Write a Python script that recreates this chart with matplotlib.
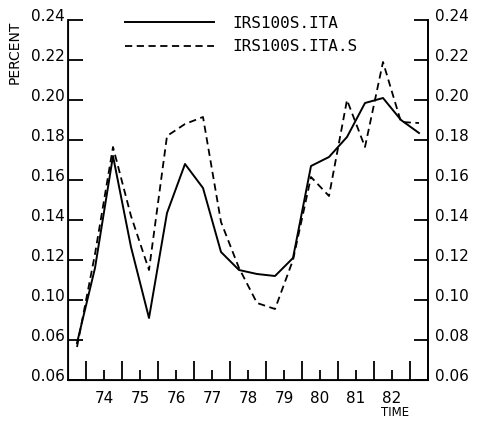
import numpy as np
import matplotlib
matplotlib.use('Agg')
import matplotlib.pyplot as plt
import matplotlib.transforms as mtransforms
from matplotlib.ticker import FixedLocator

# semi-annual observations, 73 II .. 83 I
time = [73.25, 73.75, 74.25, 74.75, 75.25, 75.75, 76.25, 76.75, 77.25, 77.75,
        78.25, 78.75, 79.25, 79.75, 80.25, 80.75, 81.25, 81.75, 82.25, 82.75]
ita = [0.0785, 0.116, 0.1720, 0.1265, 0.091, 0.1435, 0.1680, 0.156, 0.124, 0.115,
       0.113, 0.112, 0.121, 0.167, 0.1715, 0.1815, 0.1985, 0.201, 0.190, 0.1835]
ita_s = [0.0765, 0.123, 0.1765, 0.142, 0.115, 0.182, 0.188, 0.1915, 0.139, 0.116,
         0.0985, 0.0955, 0.120, 0.1615, 0.152, 0.200, 0.1765, 0.219, 0.189, 0.1885]

year_ticks = [74, 75, 76, 77, 78, 79, 80, 81, 82]
year_edges = [73.5, 74.5, 75.5, 76.5, 77.5, 78.5, 79.5, 80.5, 81.5, 82.5]
y_ticks = [0.06, 0.08, 0.10, 0.12, 0.14, 0.16, 0.18, 0.20, 0.22, 0.24]
left_labels = ['0.06', '0.06', '0.10', '0.12', '0.14', '0.16', '0.18', '0.20', '0.22', '0.24']
right_labels = ['0.06', '0.08', '0.10', '0.12', '0.14', '0.16', '0.18', '0.20', '0.22', '0.24']

plt.rcParams['font.family'] = ['DejaVu Sans']
fig = plt.figure(figsize=(4.78, 4.21), dpi=100)
ax = fig.add_axes([68/478, 41/421, 360/478, 360/421])

l1, = ax.plot(time, ita, color='black', lw=1.4, label='IRS100S.ITA')
l2, = ax.plot(time, ita_s, color='black', lw=1.3, linestyle=(0, (4, 2.5)), label='IRS100S.ITA.S')

ax.set_xlim(73, 83)
ax.set_ylim(0.06, 0.24)
ax.spines['top'].set_visible(False)
for s in ax.spines.values():
    s.set_linewidth(1.3)

# y axis (left)
ax.yaxis.set_major_locator(FixedLocator(y_ticks))
ax.set_yticklabels(left_labels)
ax.tick_params(axis='y', direction='in', length=11, width=1.3, pad=2, labelsize=11)

# x axis: long ticks at year edges, short ticks with year labels
ax.xaxis.set_major_locator(FixedLocator(year_ticks))
ax.xaxis.set_minor_locator(FixedLocator(year_edges))
ax.set_xticklabels([str(y) for y in year_ticks])
ax.tick_params(axis='x', which='major', direction='in', length=7, width=1.3, pad=8, labelsize=11)
ax.tick_params(axis='x', which='minor', direction='in', length=14, width=1.3)

# right axis
ax2 = ax.twinx()
ax2.set_ylim(0.06, 0.24)
ax2.spines['top'].set_visible(False)
ax2.spines['right'].set_linewidth(1.3)
ax2.yaxis.set_major_locator(FixedLocator(y_ticks))
ax2.set_yticklabels(right_labels)
ax2.tick_params(axis='y', direction='in', length=10, width=1.3, pad=5, labelsize=11)

# value labels sit a little above their ticks
shift = mtransforms.ScaledTranslation(0, 5/100, fig.dpi_scale_trans)
for lab in ax.get_yticklabels() + ax2.get_yticklabels():
    lab.set_transform(lab.get_transform() + shift)

fig.text(15/478, 1 - 52/421, 'PERCENT', rotation=90, ha='center', va='center', fontsize=10)
fig.text(395/478, 1 - 413/421, 'TIME', ha='center', va='center', fontsize=8.5)

leg = ax.legend(handles=[l1, l2], loc='upper left', bbox_to_anchor=(57/360, 1.012),
                frameon=False, borderpad=0, borderaxespad=0, handlelength=5.6,
                handletextpad=1.1, labelspacing=0.55,
                prop={'family': 'DejaVu Sans Mono', 'size': 11.5})

fig.savefig('out.png', dpi=100)
